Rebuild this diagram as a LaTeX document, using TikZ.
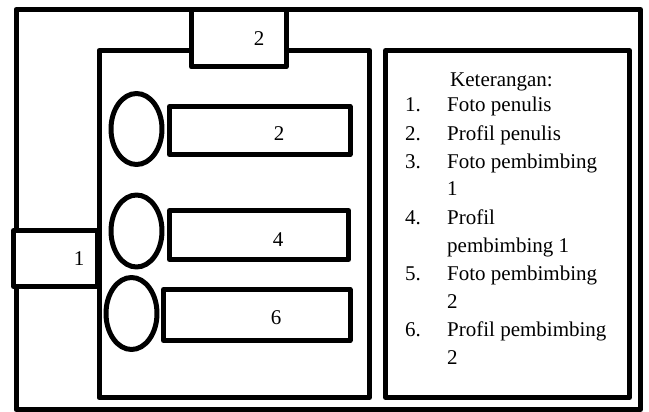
\documentclass[tikz,border=0pt]{standalone}
\usepackage{fontspec}
\setmainfont{Liberation Serif}
\begin{document}
\begin{tikzpicture}[x=1pt,y=-1pt,
  frame/.style={draw=black,line width=5pt,line join=round},
  tabbox/.style={frame,fill=white},
  lbl/.style={font=\fontsize{21}{26}\selectfont,inner sep=0pt},
  leg/.style={lbl,anchor=base west}]
\useasboundingbox (0,0) rectangle (649,412);
% outer frame
\draw[frame] (16,9.5) rectangle (640.5,409.5);
% inner panel
\draw[frame] (99,50.5) rectangle (369.5,397.5);
% legend box
\draw[frame] (385.5,50.5) rectangle (629.5,397.5);
% top tab
\draw[tabbox] (191.5,9.5) rectangle (286,67);
\node[lbl] (t2) at (259,39) {2};
% left tab
\draw[tabbox] (13.5,230.5) rectangle (97.5,286.5);
\node[lbl] (t1) at (79,259) {1};
% rows
\draw[frame] (136.5,129) ellipse (25.5pt and 35.5pt);
\draw[frame] (169.5,106.5) rectangle (350,154.5);
\node[lbl] (r2) at (279,134) {2};
\draw[frame] (136.5,231) ellipse (25.5pt and 36pt);
\draw[frame] (169.5,210.5) rectangle (348.5,259.5);
\node[lbl] (r4) at (278,240) {4};
\draw[frame] (131.5,313.5) ellipse (25.5pt and 36pt);
\draw[frame] (163.5,289.5) rectangle (350,340.5);
\node[lbl] (r6) at (276,318) {6};
% legend text
\node[leg] (k) at (450,87) {Keterangan:};
\node[leg] (n1) at (405,112) {1.};
\node[leg] (l1) at (447,112) {Foto penulis};
\node[leg] (n2) at (405,140) {2.};
\node[leg] (l2) at (447,140) {Profil penulis};
\node[leg] (n3) at (405,168) {3.};
\node[leg] (l3) at (447,168) {Foto pembimbing};
\node[leg] (l3b) at (447,196) {1};
\node[leg] (n4) at (405,224) {4.};
\node[leg] (l4) at (447,224) {Profil};
\node[leg] (l4b) at (447,252) {pembimbing 1};
\node[leg] (n5) at (405,280) {5.};
\node[leg] (l5) at (447,280) {Foto pembimbing};
\node[leg] (l5b) at (447,308) {2};
\node[leg] (n6) at (405,336) {6.};
\node[leg] (l6) at (447,336) {Profil pembimbing};
\node[leg] (l6b) at (447,364) {2};
\end{tikzpicture}
\end{document}
